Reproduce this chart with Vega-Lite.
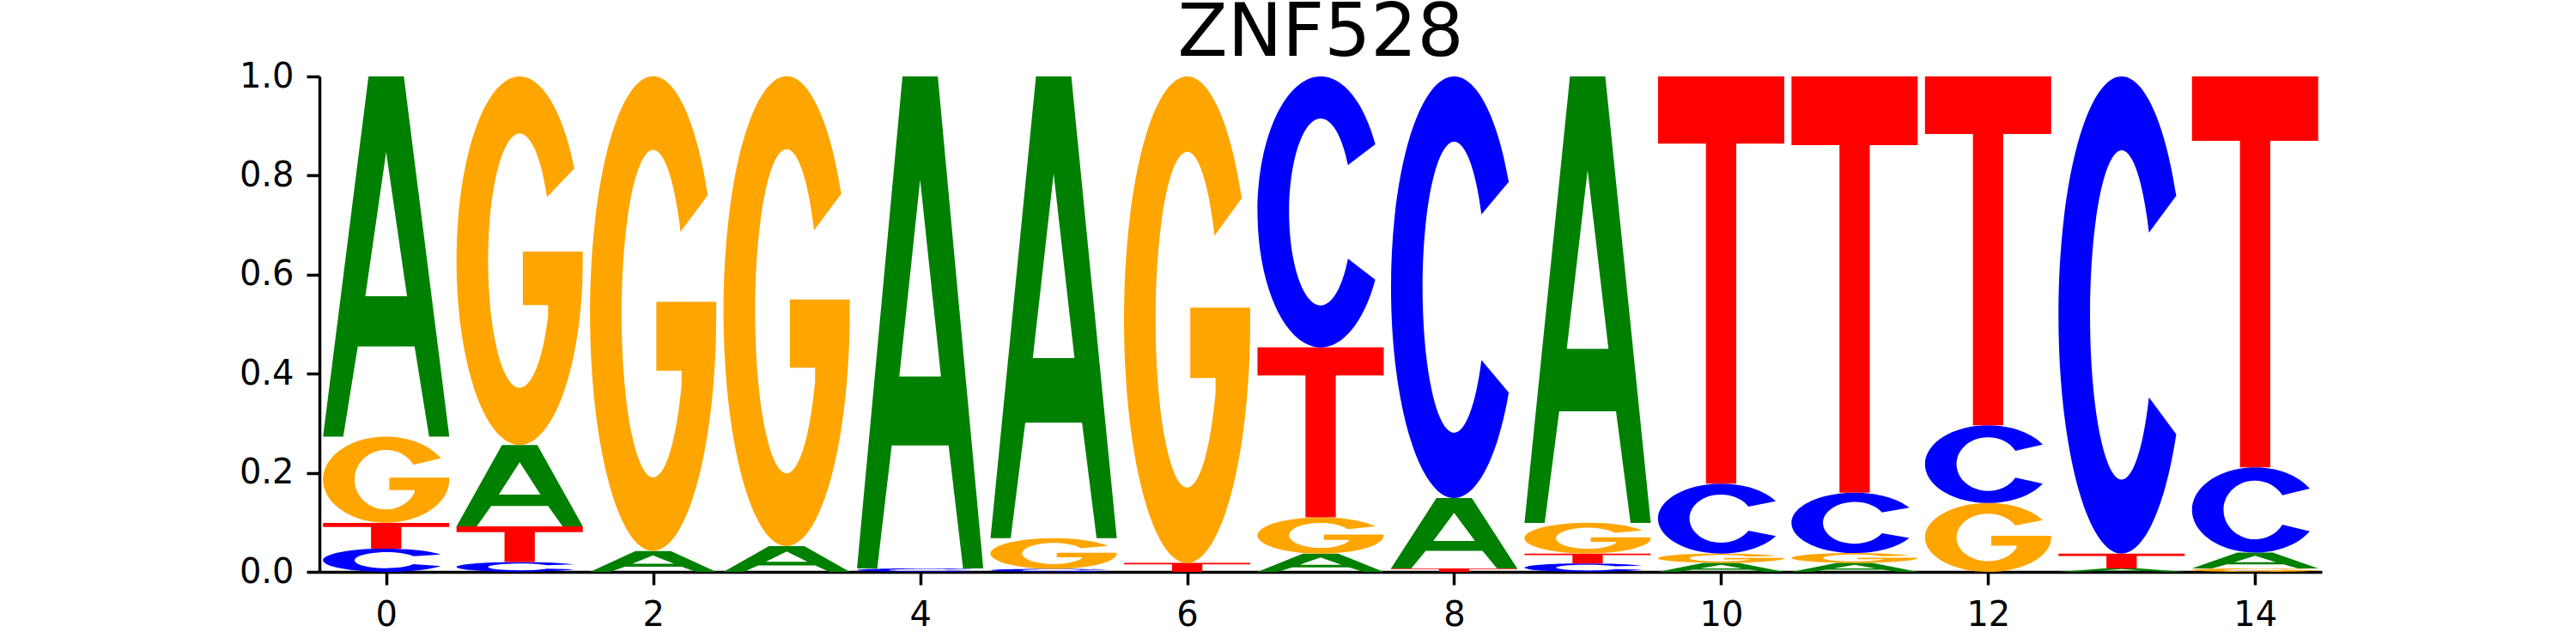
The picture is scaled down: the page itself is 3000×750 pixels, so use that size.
{
  "$schema": "https://vega.github.io/schema/vega-lite/v6.json",
  "autosize": {"type": "none"},
  "width": 2332,
  "height": 577,
  "padding": {"left": 372, "top": 89, "right": 296, "bottom": 84},
  "background": "white",
  "title": {"text": "ZNF528", "fontSize": 85, "font": "DejaVu Sans", "fontWeight": "normal", "color": "black", "anchor": "middle", "offset": -14},
  "data": {"values": [
    {"pos": 0, "base": "C", "p": 0.047, "id": "0C"},
    {"pos": 0, "base": "T", "p": 0.052, "id": "0T"},
    {"pos": 0, "base": "G", "p": 0.174, "id": "0G"},
    {"pos": 0, "base": "A", "p": 0.727, "id": "0A"},
    {"pos": 1, "base": "C", "p": 0.02, "id": "1C"},
    {"pos": 1, "base": "T", "p": 0.072, "id": "1T"},
    {"pos": 1, "base": "A", "p": 0.164, "id": "1A"},
    {"pos": 1, "base": "G", "p": 0.744, "id": "1G"},
    {"pos": 2, "base": "A", "p": 0.042, "id": "2A"},
    {"pos": 2, "base": "G", "p": 0.958, "id": "2G"},
    {"pos": 3, "base": "A", "p": 0.052, "id": "3A"},
    {"pos": 3, "base": "G", "p": 0.948, "id": "3G"},
    {"pos": 4, "base": "C", "p": 0.007, "id": "4C"},
    {"pos": 4, "base": "A", "p": 0.993, "id": "4A"},
    {"pos": 5, "base": "C", "p": 0.006, "id": "5C"},
    {"pos": 5, "base": "G", "p": 0.062, "id": "5G"},
    {"pos": 5, "base": "A", "p": 0.932, "id": "5A"},
    {"pos": 6, "base": "T", "p": 0.018, "id": "6T"},
    {"pos": 6, "base": "G", "p": 0.982, "id": "6G"},
    {"pos": 7, "base": "A", "p": 0.037, "id": "7A"},
    {"pos": 7, "base": "G", "p": 0.073, "id": "7G"},
    {"pos": 7, "base": "T", "p": 0.343, "id": "7T"},
    {"pos": 7, "base": "C", "p": 0.547, "id": "7C"},
    {"pos": 8, "base": "T", "p": 0.007, "id": "8T"},
    {"pos": 8, "base": "A", "p": 0.142, "id": "8A"},
    {"pos": 8, "base": "C", "p": 0.851, "id": "8C"},
    {"pos": 9, "base": "C", "p": 0.017, "id": "9C"},
    {"pos": 9, "base": "T", "p": 0.02, "id": "9T"},
    {"pos": 9, "base": "G", "p": 0.062, "id": "9G"},
    {"pos": 9, "base": "A", "p": 0.901, "id": "9A"},
    {"pos": 10, "base": "A", "p": 0.018, "id": "10A"},
    {"pos": 10, "base": "G", "p": 0.019, "id": "10G"},
    {"pos": 10, "base": "C", "p": 0.141, "id": "10C"},
    {"pos": 10, "base": "T", "p": 0.822, "id": "10T"},
    {"pos": 11, "base": "A", "p": 0.018, "id": "11A"},
    {"pos": 11, "base": "G", "p": 0.02, "id": "11G"},
    {"pos": 11, "base": "C", "p": 0.122, "id": "11C"},
    {"pos": 11, "base": "T", "p": 0.84, "id": "11T"},
    {"pos": 12, "base": "G", "p": 0.139, "id": "12G"},
    {"pos": 12, "base": "C", "p": 0.157, "id": "12C"},
    {"pos": 12, "base": "T", "p": 0.704, "id": "12T"},
    {"pos": 13, "base": "A", "p": 0.007, "id": "13A"},
    {"pos": 13, "base": "T", "p": 0.03, "id": "13T"},
    {"pos": 13, "base": "C", "p": 0.963, "id": "13C"},
    {"pos": 14, "base": "G", "p": 0.007, "id": "14G"},
    {"pos": 14, "base": "A", "p": 0.032, "id": "14A"},
    {"pos": 14, "base": "C", "p": 0.172, "id": "14C"},
    {"pos": 14, "base": "T", "p": 0.789, "id": "14T"}
  ]},
  "transform": [
    {"stack": "p", "groupby": ["pos"], "sort": [{"field": "p", "order": "ascending"}], "as": ["p0", "p1"]}
  ],
  "mark": {"type": "point", "filled": true, "opacity": 1, "strokeWidth": 0},
  "encoding": {
    "x": {"field": "pos", "type": "quantitative", "scale": {"domain": [-0.5, 14.5], "nice": false, "zero": false},
      "axis": {"values": [0, 2, 4, 6, 8, 10, 12, 14], "format": "d", "title": null, "labelFlush": false}},
    "y": {"field": "p1", "type": "quantitative", "scale": {"domain": [0, 1], "nice": false},
      "axis": {"values": [0, 0.2, 0.4, 0.6, 0.8, 1.0], "format": ".1f", "title": null}},
    "color": {"field": "base", "type": "nominal", "legend": null,
      "scale": {"domain": ["A", "C", "G", "T"], "range": ["#008000", "#0000ff", "#ffa500", "#ff0000"]}},
    "size": {"field": "p", "type": "quantitative", "legend": null,
      "scale": {"type": "pow", "exponent": 2, "domain": [0, 1], "range": [0, 332929]}},
    "shape": {"field": "id", "type": "nominal", "legend": null,
      "scale": {
        "domain": ["0C","0T","0G","0A","1C","1T","1A","1G","2A","2G","3A","3G","4C","4A","5C","5G","5A","6T","6G","7A","7G","7T","7C","8T","8A","8C","9C","9T","9G","9A","10A","10G","10C","10T","11A","11G","11C","11T","12G","12C","12T","13A","13T","13C","14G","14A","14C","14T"],
        "range": [
          "M4.695 0.5A5.421 1 0 1 0 4.695 1.5L2.347 1.345A2.711 0.69 0 1 1 2.347 0.655Z",
          "M-4.9 0L4.9 0L4.9 0.33L1.176 0.33L1.176 2L-1.176 2L-1.176 0.33L-4.9 0.33Z",
          "M1.268 0.5A1.464 1 0 1 0 1.458 1.087L1.464 0.95L0.0732 0.95L0.0732 1.24L0.6588 1.24L0.6588 1.3A0.732 0.69 0 1 1 0.6339 0.655Z",
          "M-0.3505 2L-0.0981 0L0.0981 0L0.3505 2L0.2383 2L0.1577 1.5L-0.1577 1.5L-0.2383 2ZM-0.1157 1.22L0.1157 1.22L0 0.42Z",
          "M11.03 0.5A12.74 1 0 1 0 11.03 1.5L5.516 1.345A6.37 0.69 0 1 1 5.516 0.655Z",
          "M-3.539 0L3.539 0L3.539 0.33L0.8494 0.33L0.8494 2L-0.8494 2L-0.8494 0.33L-3.539 0.33Z",
          "M-1.554 2L-0.4351 0L0.4351 0L1.554 2L1.057 2L0.6993 1.5L-0.6993 1.5L-1.057 2ZM-0.5128 1.22L0.5128 1.22L0 0.42Z",
          "M0.2966 0.5A0.3425 1 0 1 0 0.3411 1.087L0.3425 0.95L0.01713 0.95L0.01713 1.24L0.1541 1.24L0.1541 1.3A0.1713 0.69 0 1 1 0.1483 0.655Z",
          "M-6.067 2L-1.699 0L1.699 0L6.067 2L4.126 2L2.73 1.5L-2.73 1.5L-4.126 2ZM-2.002 1.22L2.002 1.22L0 0.42Z",
          "M0.2304 0.5A0.266 1 0 1 0 0.2649 1.087L0.266 0.95L0.0133 0.95L0.0133 1.24L0.1197 1.24L0.1197 1.3A0.133 0.69 0 1 1 0.1152 0.655Z",
          "M-4.9 2L-1.372 0L1.372 0L4.9 2L3.332 2L2.205 1.5L-2.205 1.5L-3.332 2ZM-1.617 1.22L1.617 1.22L0 0.42Z",
          "M0.2328 0.5A0.2688 1 0 1 0 0.2677 1.087L0.2688 0.95L0.01344 0.95L0.01344 1.24L0.121 1.24L0.121 1.3A0.1344 0.69 0 1 1 0.1164 0.655Z",
          "M31.52 0.5A36.4 1 0 1 0 31.52 1.5L15.76 1.345A18.2 0.69 0 1 1 15.76 0.655Z",
          "M-0.2566 2L-0.07185 0L0.07185 0L0.2566 2L0.1745 2L0.1155 1.5L-0.1155 1.5L-0.1745 2ZM-0.08468 1.22L0.08468 1.22L0 0.42Z",
          "M36.78 0.5A42.47 1 0 1 0 36.78 1.5L18.39 1.345A21.24 0.69 0 1 1 18.39 0.655Z",
          "M3.559 0.5A4.11 1 0 1 0 4.094 1.087L4.11 0.95L0.2055 0.95L0.2055 1.24L1.85 1.24L1.85 1.3A2.055 0.69 0 1 1 1.78 0.655Z",
          "M-0.2734 2L-0.07655 0L0.07655 0L0.2734 2L0.1859 2L0.123 1.5L-0.123 1.5L-0.1859 2ZM-0.09022 1.22L0.09022 1.22L0 0.42Z",
          "M-14.16 0L14.16 0L14.16 0.33L3.398 0.33L3.398 2L-3.398 2L-3.398 0.33L-14.16 0.33Z",
          "M0.2247 0.5A0.2595 1 0 1 0 0.2585 1.087L0.2595 0.95L0.01298 0.95L0.01298 1.24L0.1168 1.24L0.1168 1.3A0.1298 0.69 0 1 1 0.1124 0.655Z",
          "M-6.886 2L-1.928 0L1.928 0L6.886 2L4.682 2L3.099 1.5L-3.099 1.5L-4.682 2ZM-2.272 1.22L2.272 1.22L0 0.42Z",
          "M3.022 0.5A3.49 1 0 1 0 3.476 1.087L3.49 0.95L0.1745 0.95L0.1745 1.24L1.571 1.24L1.571 1.3A1.745 0.69 0 1 1 1.511 0.655Z",
          "M-0.7429 0L0.7429 0L0.7429 0.33L0.1783 0.33L0.1783 2L-0.1783 2L-0.1783 0.33L-0.7429 0.33Z",
          "M0.4034 0.5A0.4658 1 0 1 0 0.4034 1.5L0.2017 1.345A0.2329 0.69 0 1 1 0.2017 0.655Z",
          "M-36.4 0L36.4 0L36.4 0.33L8.736 0.33L8.736 2L-8.736 2L-8.736 0.33L-36.4 0.33Z",
          "M-1.794 2L-0.5023 0L0.5023 0L1.794 2L1.22 2L0.8073 1.5L-0.8073 1.5L-1.22 2ZM-0.592 1.22L0.592 1.22L0 0.42Z",
          "M0.2593 0.5A0.2994 1 0 1 0 0.2593 1.5L0.1296 1.345A0.1497 0.69 0 1 1 0.1296 0.655Z",
          "M12.98 0.5A14.99 1 0 1 0 12.98 1.5L6.491 1.345A7.495 0.69 0 1 1 6.491 0.655Z",
          "M-12.74 0L12.74 0L12.74 0.33L3.058 0.33L3.058 2L-3.058 2L-3.058 0.33L-12.74 0.33Z",
          "M3.559 0.5A4.11 1 0 1 0 4.094 1.087L4.11 0.95L0.2055 0.95L0.2055 1.24L1.85 1.24L1.85 1.3A2.055 0.69 0 1 1 1.78 0.655Z",
          "M-0.2828 2L-0.07918 0L0.07918 0L0.2828 2L0.1923 2L0.1273 1.5L-0.1273 1.5L-0.1923 2ZM-0.09332 1.22L0.09332 1.22L0 0.42Z",
          "M-14.16 2L-3.965 0L3.965 0L14.16 2L9.629 2L6.372 1.5L-6.372 1.5L-9.629 2ZM-4.673 1.22L4.673 1.22L0 0.42Z",
          "M11.61 0.5A13.41 1 0 1 0 13.36 1.087L13.41 0.95L0.6705 0.95L0.6705 1.24L6.035 1.24L6.035 1.3A6.705 0.69 0 1 1 5.807 0.655Z",
          "M1.565 0.5A1.807 1 0 1 0 1.565 1.5L0.7824 1.345A0.9035 0.69 0 1 1 0.7824 0.655Z",
          "M-0.31 0L0.31 0L0.31 0.33L0.0744 0.33L0.0744 2L-0.0744 2L-0.0744 0.33L-0.31 0.33Z",
          "M-14.16 2L-3.965 0L3.965 0L14.16 2L9.629 2L6.372 1.5L-6.372 1.5L-9.629 2ZM-4.673 1.22L4.673 1.22L0 0.42Z",
          "M11.03 0.5A12.74 1 0 1 0 12.69 1.087L12.74 0.95L0.637 0.95L0.637 1.24L5.733 1.24L5.733 1.3A6.37 0.69 0 1 1 5.516 0.655Z",
          "M1.809 0.5A2.089 1 0 1 0 1.809 1.5L0.9045 1.345A1.045 0.69 0 1 1 0.9045 0.655Z",
          "M-0.3033 0L0.3033 0L0.3033 0.33L0.07279 0.33L0.07279 2L-0.07279 2L-0.07279 0.33L-0.3033 0.33Z",
          "M1.587 0.5A1.833 1 0 1 0 1.826 1.087L1.833 0.95L0.09165 0.95L0.09165 1.24L0.8249 1.24L0.8249 1.3A0.9165 0.69 0 1 1 0.7937 0.655Z",
          "M1.406 0.5A1.623 1 0 1 0 1.406 1.5L0.7028 1.345A0.8115 0.69 0 1 1 0.7028 0.655Z",
          "M-0.3619 0L0.3619 0L0.3619 0.33L0.08686 0.33L0.08686 2L-0.08686 2L-0.08686 0.33L-0.3619 0.33Z",
          "M-36.4 2L-10.19 0L10.19 0L36.4 2L24.75 2L16.38 1.5L-16.38 1.5L-24.75 2ZM-12.01 1.22L12.01 1.22L0 0.42Z",
          "M-8.493 0L8.493 0L8.493 0.33L2.038 0.33L2.038 2L-2.038 2L-2.038 0.33L-8.493 0.33Z",
          "M0.2291 0.5A0.2646 1 0 1 0 0.2291 1.5L0.1146 1.345A0.1323 0.69 0 1 1 0.1146 0.655Z",
          "M31.52 0.5A36.4 1 0 1 0 36.25 1.087L36.4 0.95L1.82 0.95L1.82 1.24L16.38 1.24L16.38 1.3A18.2 0.69 0 1 1 15.76 0.655Z",
          "M-7.963 2L-2.23 0L2.23 0L7.963 2L5.415 2L3.583 1.5L-3.583 1.5L-5.415 2ZM-2.628 1.22L2.628 1.22L0 0.42Z",
          "M1.283 0.5A1.481 1 0 1 0 1.283 1.5L0.6413 1.345A0.7405 0.69 0 1 1 0.6413 0.655Z",
          "M-0.3229 0L0.3229 0L0.3229 0.33L0.0775 0.33L0.0775 2L-0.0775 2L-0.0775 0.33L-0.3229 0.33Z"
        ]
      }
    }
  },
  "config": {
    "view": {"stroke": null},
    "axis": {"domainColor": "#000000", "domainWidth": 3.5, "tickColor": "#000000", "tickWidth": 3.5, "tickSize": 15,
      "labelFont": "DejaVu Sans", "labelFontSize": 40, "labelColor": "#000000", "labelPadding": 15, "grid": false, "labelOverlap": false}
  }
}
